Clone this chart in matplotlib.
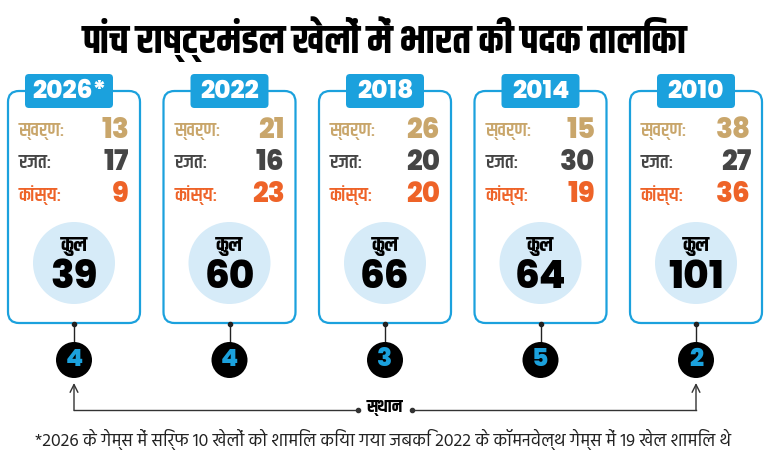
import matplotlib
matplotlib.use('Agg')
import matplotlib.pyplot as plt
from matplotlib.patches import FancyBboxPatch, Circle

# data
years = ['2026*', '2022', '2018', '2014', '2010']
gold = [13, 21, 26, 15, 38]
silver = [17, 16, 20, 30, 27]
bronze = [9, 23, 20, 19, 36]
total = [39, 60, 66, 64, 101]
rank = [4, 4, 3, 5, 2]
row_labels = ['स्वर्ण:', 'रजत:', 'कांस्य:']

title = 'पांच राष्ट्रमंडल खेलों में भारत की पदक तालिका'
footnote = '*2026 के गेम्स में सिर्फ 10 खेलों को शामिल किया गया जबकि 2022 के कॉमनवेल्थ गेम्स में 19 खेल शामिल थे'

BLUE = '#1ba1dd'
LIGHT = '#d6ebf8'
row_colors = ['#c9a66b', '#454545', '#ee6328']

DEVA = 'Khand'
NUM = 'Poppins'

W, H = 770, 467
fig = plt.figure(figsize=(7.7, 4.67), dpi=100)
ax = fig.add_axes([0, 0, 1, 1])
ax.set_xlim(0, W)
ax.set_ylim(H, 0)
ax.axis('off')

ax.text(385, 39, title, ha='center', va='center', family=DEVA,
        fontweight=700, fontsize=29, color='black')

pitch = 155.5
x0 = 74
for i, yr in enumerate(years):
    cx = x0 + i * pitch
    vals = [gold[i], silver[i], bronze[i]]

    card = FancyBboxPatch((cx - 66, 91), 132, 232,
                          boxstyle='round,pad=0,rounding_size=11',
                          fc='white', ec=BLUE, lw=1.6, zorder=1)
    ax.add_patch(card)

    bw = 88 if yr.endswith('*') else 78
    bx = cx - 5 if yr.endswith('*') else cx
    badge = FancyBboxPatch((bx - bw / 2, 74), bw, 34,
                           boxstyle='round,pad=0,rounding_size=4',
                           fc=BLUE, ec='none', zorder=2)
    ax.add_patch(badge)
    ax.text(bx, 92, yr, ha='center', va='center', family=NUM,
            fontweight=800, fontsize=18, color='white', zorder=3)

    for j, (lab, v) in enumerate(zip(row_labels, vals)):
        y = [132, 163, 195][j]
        ax.text(cx - 55, y, lab, ha='left', va='center', family=DEVA,
                fontweight=600, fontsize=14, color=row_colors[j], zorder=3)
        ax.text(cx + 55, y, str(v), ha='right', va='center', family=NUM,
                fontweight=800, fontsize=20, color=row_colors[j], zorder=3)

    ax.add_patch(Circle((cx, 263), 41, fc=LIGHT, ec='none', zorder=2))
    ax.text(cx, 246, 'कुल', ha='center', va='center', family=DEVA,
            fontweight=700, fontsize=15, color='black', zorder=3)
    ax.text(cx, 278, str(total[i]), ha='center', va='center', family=NUM,
            fontweight=800, fontsize=28, color='black', zorder=3)

    # connector + rank
    ax.plot([cx, cx], [323, 344], color='#222', lw=1, zorder=1)
    ax.plot(cx, 324, 'o', ms=3, color='#222', zorder=3)
    ax.add_patch(Circle((cx, 360), 18, fc='black', ec='none', zorder=2))
    ax.text(cx, 361, str(rank[i]), ha='center', va='center', family=NUM,
            fontweight=800, fontsize=18, color=BLUE, zorder=3)

# rank arrow
xl = x0
xr = x0 + 4 * pitch
ay = 410
ax.plot([xl, 358], [ay, ay], color='#333', lw=1)
ax.plot([412, xr], [ay, ay], color='#333', lw=1)
ax.plot([358, 412], [ay, ay], 'o', ms=3, color='#333')
for xx in (xl, xr):
    ax.annotate('', xy=(xx, 383), xytext=(xx, ay + 0.5),
                arrowprops=dict(arrowstyle='->', color='#333', lw=1,
                                mutation_scale=14, shrinkA=0, shrinkB=0))
ax.text(385, 408, 'स्थान', ha='center', va='center', family=DEVA,
        fontweight=700, fontsize=12.5, color='black')

ax.text(383, 439, footnote, ha='center', va='center', family='Hind',
        fontsize=12.8, color='#222')

fig.savefig('out.png', dpi=100)
